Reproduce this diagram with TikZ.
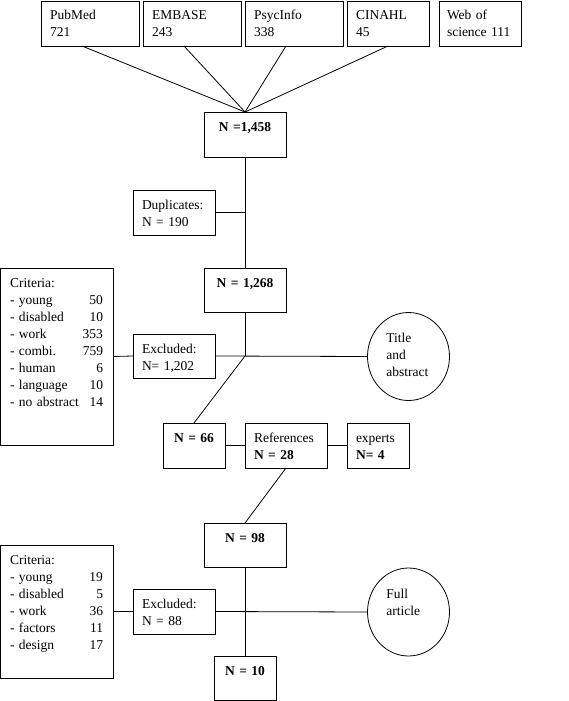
\documentclass[tikz,border=0pt]{standalone}
\usepackage{fontspec}
\setmainfont{Liberation Serif}
\usetikzlibrary{shapes.geometric}
\newcommand{\chartfont}{\fontsize{13.5}{17}\selectfont}

\begin{document}
\begin{tikzpicture}
    [x=1pt, y=-1pt, line width=0.8pt, font=\chartfont,
     box/.style={draw, outer sep=0pt, anchor=north west, align=left,
       inner xsep=9pt, inner ysep=0pt, text height=19pt, text depth=26pt},
     count/.style={box, align=center, font=\chartfont\bfseries},
     oval/.style={draw, ellipse, outer sep=0pt, inner sep=0pt,
       minimum width=82pt, minimum height=88pt},
     ovaltext/.style={anchor=base west, align=left, inner sep=0pt, text width=60pt}]
\useasboundingbox (0,0) rectangle (568,701);

\node[box, text width=80pt](pub) at (41,1){PubMed\\721};
\node[box, text width=80pt](emb) at (143,1){EMBASE\\243};
\node[box, text width=80pt](psy) at (245,1){PsycInfo\\338};
\node[box, text width=64pt](cin) at (347,1){CINAHL\\45};
\node[box, inner xsep=8pt, text width=66pt](wos) at (439,1){Web of\\science 111};

\node[count, text width=64pt](n1458) at (204,112){N =1,458};
\node[box, text width=64pt](dup) at (133,190){Duplicates:\\N = 190};
\node[count, text width=64pt, text depth=25pt](n1268) at (204,268){N = 1,268};

\node[box, inner xsep=10pt, text width=93pt, text depth=158pt](crit1) at (0,268)
  {Criteria:\\- young\hfill 50\\- disabled\hfill 10\\- work\hfill 353\\- combi.\hfill 759\\
   - human\hfill 6\\- language\hfill 10\\- no abstract\hfill 14};
\node[box, text width=64pt, text depth=25pt](exc1) at (133,334){Excluded:\\N= 1,202};
\node[oval](tia) at (408.5,356.5){};
\node[ovaltext](tiaT) at (386,342){Title\\and\\abstract};

\node[count, text width=44pt](n66) at (163,423){N = 66};
\node[box, text width=64pt](ref) at (245,423){References\\\textbf{N = 28}};
\node[box, text width=44pt](exp) at (347,423){experts\\\textbf{N= 4}};

\node[count, text width=64pt, text depth=25pt](n98) at (204,523){N = 98};
\node[box, inner xsep=10pt, text width=93pt, text depth=114pt](crit2) at (0,545)
  {Criteria:\\- young\hfill 19\\- disabled\hfill 5\\- work\hfill 36\\- factors\hfill 11\\- design\hfill 17};
\node[box, text width=64pt](exc2) at (133,589){Excluded:\\N = 88};
\node[oval](fa) at (408.5,612){};
\node[ovaltext](faT) at (386,598){Full\\article};
\node[count, text width=44pt, text depth=25pt](n10) at (214,656){N = 10};

\coordinate (dupj) at (dup.east -| n1458.south);
\coordinate (split) at (n1268.south |- exc1.east);

\path
    ([xshift=-8pt]pub.south) edge (n1458.north)
    ([xshift=-8pt]emb.south) edge (n1458.north)
    ([xshift=-8pt]psy.south) edge (n1458.north)
    (cin.south) edge (n1458.north)
    (n1458.south) edge (n1268.north)
    (dup.east) edge (dupj)
    (n1268.south) edge (split)
    (crit1.east) edge (exc1.west)
    (exc1.east) edge (tia.west)
    (split) edge (n66.north)
    (n66.east) edge (ref.west)
    (ref.east) edge (exp.west)
    (ref.south) edge (n98.north)
    (n98.south) edge (n10.north)
    (crit2.east) edge (exc2.west)
    (exc2.east) edge (fa.west);
\end{tikzpicture}
\end{document}
